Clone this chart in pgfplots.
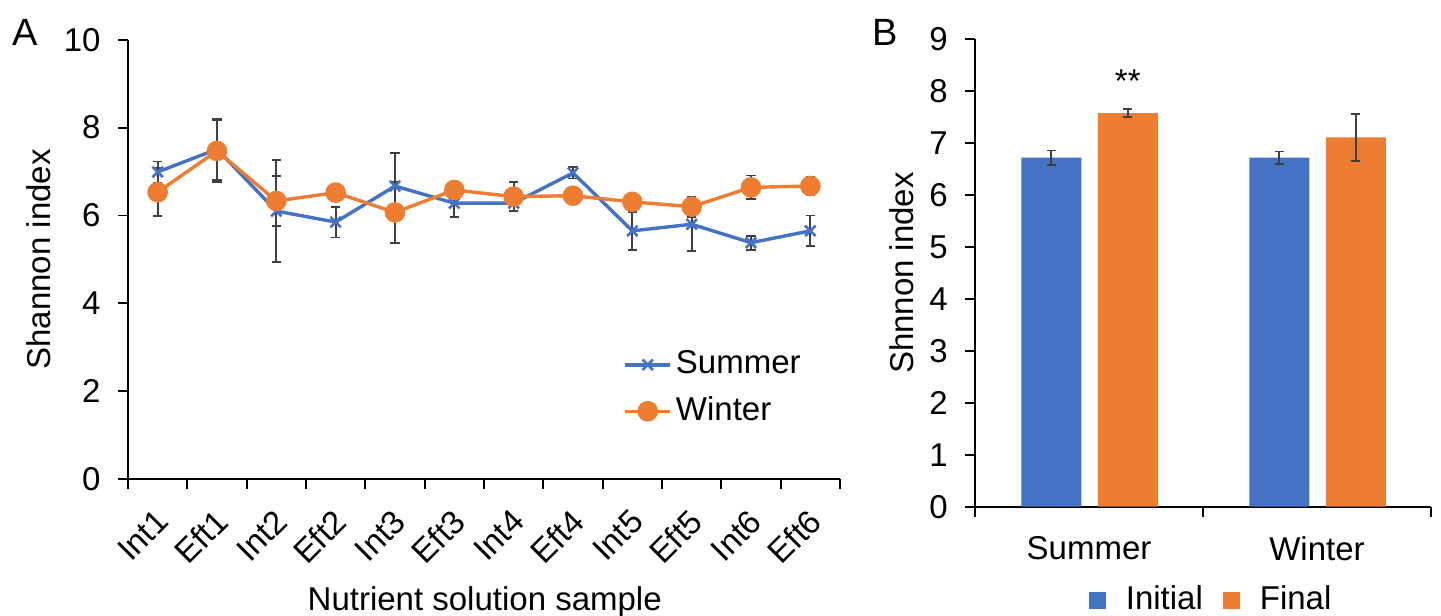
\documentclass[border=0pt]{standalone}
\usepackage{pgfplots}
\pgfplotsset{compat=1.18}
\usepackage{fontspec}
\setmainfont{Liberation Sans}

\definecolor{cblue}{HTML}{4472C4}
\definecolor{corange}{HTML}{ED7D31}
\definecolor{ebar}{HTML}{404040}

\newcommand\fs{\fontsize{16.5}{19.8}\selectfont}

\pgfplotsset{
  every axis/.append style={
    scale only axis,
    axis x line=bottom, axis y line=left,
    axis line style={-, line width=0.9pt, black},
    tick style={line width=0.9pt, black},
    tick align=outside,
    major tick length=5pt,
    minor tick length=5pt,
    /pgf/number format/assume math mode=true,
    tick label style={font=\fs},
    yticklabel style={xshift=-3pt},
    label style={font=\fs},
    clip=false,
  },
  ebars/.style={
    error bars/.cd, y dir=both, y explicit,
    error bar style={ebar, line width=0.9pt},
    error mark options={ebar, line width=0.9pt, mark size=2.3pt, rotate=90},
  },
}

\pgfplotstableread{
x    y     e
0.5  6.99  0.24
1.5  7.51  0.70
2.5  6.10  1.16
3.5  5.85  0.35
4.5  6.67  0.75
5.5  6.28  0.31
6.5  6.28  0.18
7.5  6.97  0.13
8.5  5.65  0.43
9.5  5.80  0.60
10.5 5.38  0.16
11.5 5.65  0.35
}\summer

\pgfplotstableread{
x    y     e
0.5  6.53  0.55
1.5  7.47  0.70
2.5  6.33  0.57
3.5  6.52  0.05
4.5  6.07  0.70
5.5  6.58  0.05
6.5  6.43  0.33
7.5  6.45  0.05
8.5  6.31  0.05
9.5  6.20  0.23
10.5 6.64  0.27
11.5 6.67  0.20
}\winter

\begin{document}
\fs
\begin{tikzpicture}
\useasboundingbox (0,0) rectangle (720.5pt,308pt);

% panel A
\begin{axis}[
    at={(64pt,68.5pt)}, anchor=south west,
    width=356pt, height=219.6pt,
    xmin=0, xmax=12, ymin=0, ymax=10,
    xtick={0,1,...,12}, xticklabels={},
    extra x ticks={0.5,1.5,...,11.5},
    extra x tick labels={Int1,Eft1,Int2,Eft2,Int3,Eft3,Int4,Eft4,Int5,Eft5,Int6,Eft6},
    extra x tick style={major tick length=0pt,
        xticklabel style={rotate=45, anchor=east, xshift=-5.7pt, yshift=-14.8pt}},
    ytick={0,2,...,10},
    xlabel={Nutrient solution sample},
    xlabel style={at={(axis description cs:0.501,-0.28)}, anchor=center},
    ylabel={Shannon index},
    ylabel style={at={(axis description cs:-0.126,0.5)}, anchor=center},
    legend style={draw=none, fill=none, font=\fs,
        at={(axis description cs:0.687,0.311)}, anchor=north west,
        row sep=5pt},
    legend cell align=left,
    legend image code/.code={
        \draw[mark repeat=2, mark phase=2, #1]
        plot coordinates {(0pt,0pt) (11.25pt,0pt) (22.5pt,0pt)};},
]
\addplot[cblue, line width=1.7pt, mark=x, mark size=3.7pt,
    mark options={line width=1.3pt}, ebars]
    table[x=x, y=y, y error=e] {\summer};
\addlegendentry{Summer}
\addplot[corange, line width=1.7pt, mark=*, mark size=4.3pt,
    mark options={draw=corange, fill=corange}, ebars]
    table[x=x, y=y, y error=e] {\winter};
\addlegendentry{Winter}
\end{axis}

% panel B
\begin{axis}[
    at={(487.5pt,54.65pt)}, anchor=south west,
    width=228pt, height=233.7pt,
    xmin=0, xmax=2, ymin=0, ymax=9,
    xtick={0,1,2}, xticklabels={},
    extra x ticks={0.5,1.5},
    extra x tick labels={Summer,Winter},
    extra x tick style={major tick length=0pt,
        xticklabel style={yshift=-9pt}},
    ytick={0,1,...,9},
    ylabel={Shnnon index},
    ylabel style={at={(axis description cs:-0.16,0.5)}, anchor=center},
    legend style={draw=none, fill=none, font=\fs,
        at={(axis description cs:0.52,-0.2)}, anchor=center,
        legend columns=2, column sep=8pt},
    legend image code/.code={
        \fill[#1] (0pt,-4.2pt) rectangle (8.5pt,4.2pt);},
]
\addplot[ybar, bar width=0.263, bar shift=0, fill=cblue, draw=none, ebars]
    coordinates {(0.335,6.72) +- (0,0.14) (1.335,6.72) +- (0,0.12)};
\addlegendentry{Initial}
\addplot[ybar, bar width=0.263, bar shift=0, fill=corange, draw=none, ebars]
    coordinates {(0.67,7.58) +- (0,0.08) (1.67,7.11) +- (0,0.45)};
\addlegendentry{Final}
\node[font=\fs] at (axis cs:0.67,8.2) {**};
\end{axis}

\node[font=\fontsize{19}{22}\selectfont] at (12.5pt,292pt) {A};
\node[font=\fontsize{19}{22}\selectfont] at (442.5pt,292pt) {B};
\end{tikzpicture}
\end{document}
